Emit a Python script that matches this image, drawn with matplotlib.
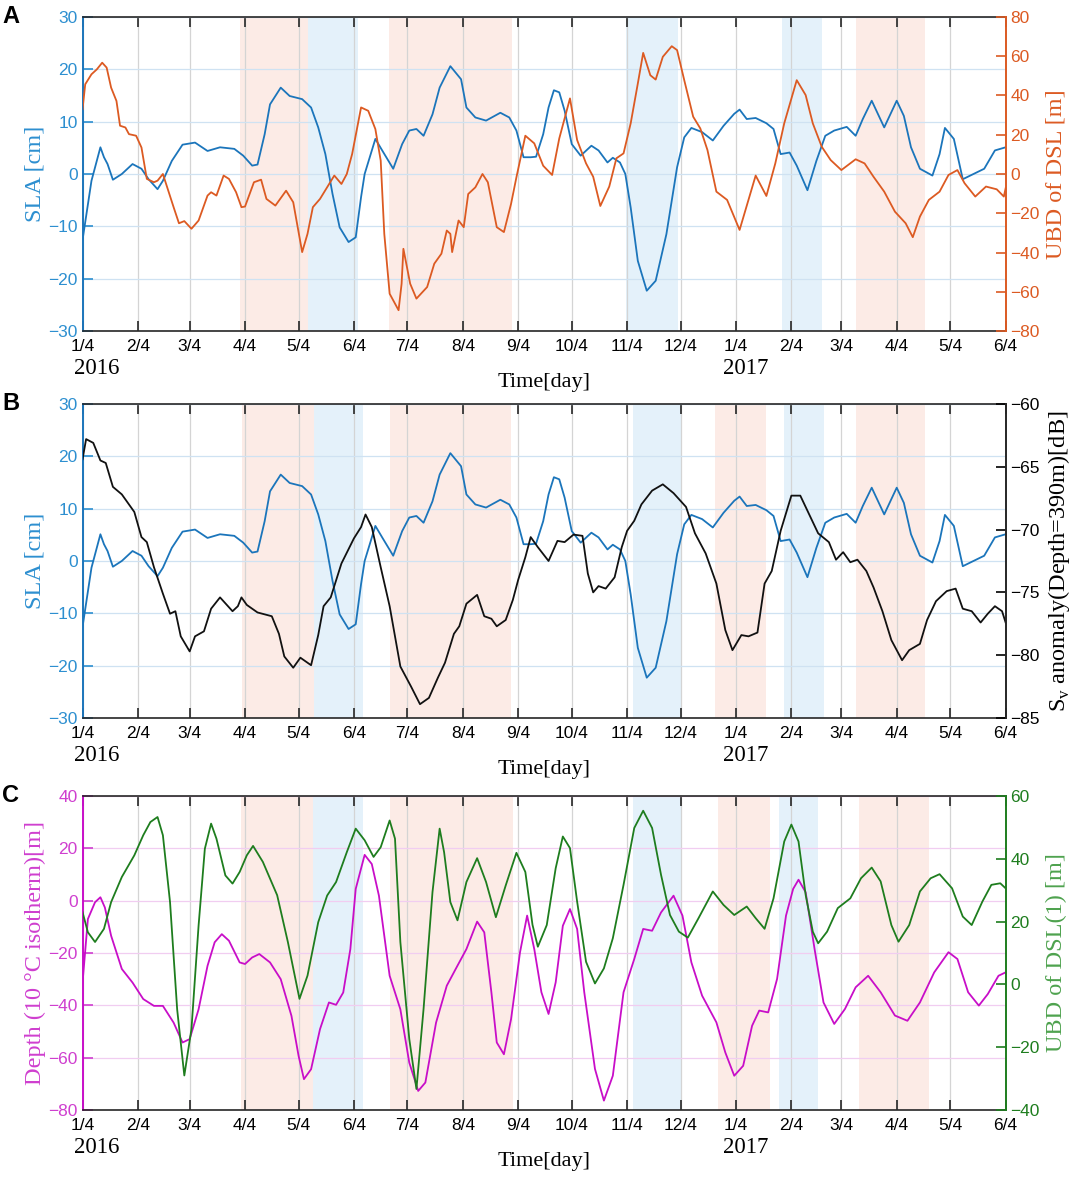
import matplotlib.pyplot as plt
import numpy as np
import pandas as pd

# day offsets from 2016-01-04
sla_days = [0, 5, 10, 12, 14, 17, 22, 28, 33, 37, 42, 45, 50, 56, 63, 70, 77, 85, 90, 95, 98, 102, 105, 111,
            116, 123, 128, 132, 136, 140, 144, 149, 153, 156, 158, 164, 168, 174, 179, 183, 187, 191, 196, 200,
            206, 212, 215, 220, 226, 234, 239, 243, 247, 251, 254, 258, 261, 264, 267, 270, 274, 279, 285, 289,
            294, 297, 301, 304, 307, 311, 316, 321, 327, 333, 337, 341, 347, 353, 359, 365, 368, 372, 377, 383,
            387, 391, 396, 400, 406, 411, 416, 421, 428, 433, 437, 442, 449, 456, 460, 464, 469, 476, 480, 483,
            488, 493, 499, 505, 511, 517]
sla_vals = [-12.6, -1.3, 5.1, 3.2, 1.9, -1.1, 0, 1.9, 1.0, -1.0, -2.9, -1.3, 2.5, 5.6, 6.0, 4.4, 5.1, 4.8, 3.5,
            1.6, 1.8, 7.6, 13.3, 16.5, 14.9, 14.3, 12.7, 8.9, 3.8, -3.8, -10.2, -13.0, -12.1, -4.4, 0, 6.7, 4.4,
            1.0, 5.7, 8.3, 8.6, 7.3, 11.4, 16.5, 20.6, 18.1, 12.7, 10.8, 10.2, 11.7, 10.8, 8.3, 3.2, 3.2, 3.3,
            7.6, 12.7, 16.0, 15.6, 12.1, 5.7, 3.5, 5.4, 4.5, 2.2, 3.1, 2.2, 0, -6.4, -16.6, -22.3, -20.4, -11.5,
            1.3, 7.0, 8.8, 8.0, 6.4, 9.2, 11.5, 12.3, 10.5, 10.7, 9.7, 8.6, 3.8, 4.1, 1.6, -3.1, 2.5, 7.3, 8.3,
            9.0, 7.3, 10.5, 14.0, 8.9, 14.0, 11.1, 5.1, 1.0, -0.3, 3.8, 8.8, 6.7, -1.0, 0, 1.0, 4.5, 5.1]

ubd_days = [0, 1.5, 5, 8, 11, 13.5, 16, 19, 21, 24, 26, 30, 33, 36, 40, 42, 45, 48, 51, 54, 57, 61, 65, 70, 72,
            75, 79, 82, 86, 89, 91, 96, 100, 103, 108, 114, 118, 123, 126, 129, 133, 137, 141, 145, 148, 151,
            154, 156, 160, 164, 167, 169, 172, 177, 178.7, 179.7, 183.5, 187, 193, 197, 201, 204, 206, 207,
            210.6, 213.5, 216, 220, 224, 227, 232, 236, 240, 243, 248, 253, 258, 263, 267, 273, 277, 282, 286,
            290, 295, 299, 303, 307, 311, 314, 318, 321, 325, 330, 333, 337, 342, 346, 350, 355, 361, 368, 373,
            377, 383, 388, 393, 400, 405, 409, 414, 419, 425, 433, 438, 443, 449, 455, 461, 465, 469, 474, 480,
            485, 490, 494, 500, 506, 512, 516, 517]
ubd_vals = [33, 45.7, 50.8, 53.3, 56.7, 54.2, 44, 37.2, 24.6, 23.7, 20.3, 19.5, 13.5, -2.5, -4.2, -3.4, 0, -8.5,
            -16.9, -25.1, -24, -27.9, -23.7, -11, -9.3, -11, -0.8, -2.5, -9.3, -16.9, -16.6, -4.2, -2.9, -12.7,
            -16.1, -8.5, -14.4, -39.8, -30.5, -16.9, -12.7, -6.8, -0.8, -5.1, 0, 10.2, 24.6, 33.9, 32.2, 22.9,
            6.8, -30.5, -61, -69.4, -55.9, -38.1, -55.9, -63.5, -57.6, -45.7, -40.6, -28.8, -30.5, -39.8, -23.7,
            -27.1, -10.2, -6.8, 0, -4.2, -27.1, -29.6, -15.2, -1.7, 19.5, 15.6, 4.2, -0.5, 18.1, 38.5, 17.3, 5.4,
            -1.4, -16.3, -6.4, 8, 10.5, 25.8, 46.1, 61.7, 50.3, 48.1, 59.7, 65.1, 63.1, 47.8, 29.2, 23.2, 12.2,
            -9, -13.2, -28.5, -13.2, -0.8, -11.2, 5.4, 25.8, 47.8, 40.2, 25.8, 13.9, 7.1, 2, 7.5, 5.4, -1.4, -9,
            -19.2, -25.1, -32.2, -21.7, -13.2, -9, -0.5, 2, -4.7, -11.5, -6.4, -7.8, -11.5, -7.3]

sv_days = [0, 2, 6, 10, 13, 17, 22, 29, 33, 36, 40, 45, 49, 52, 55, 60, 63, 68, 72, 77, 84, 87, 89, 92, 98, 106,
           110, 113, 118, 122, 128, 132, 135, 139, 145, 152, 156, 158.5, 162, 167, 172, 178, 184, 189, 194, 199,
           203, 208, 211, 215, 221, 225, 229, 232, 237, 241, 244, 248, 251, 255, 261, 266, 270, 275, 280, 283,
           286, 289, 293, 298, 302, 305, 309, 313, 319, 325, 331, 338, 343, 349, 355, 360, 364, 369, 373, 378,
           382, 386, 391, 397, 402, 406, 412, 418, 422, 426, 430, 434, 439, 443, 448, 453, 459, 463, 469, 473,
           478, 484, 489, 493, 498, 503, 507, 511, 515, 517]
sv_vals = [-64.4, -62.8, -63.1, -64.5, -64.7, -66.6, -67.2, -68.6, -70.6, -71.0, -73, -75.1, -76.7, -76.5, -78.5,
           -79.7, -78.5, -78.1, -76.3, -75.4, -76.5, -76.1, -75.4, -76.0, -76.6, -76.9, -78.3, -80.1, -81.0,
           -80.2, -80.8, -78.4, -76.1, -75.4, -72.7, -70.7, -69.8, -68.8, -69.8, -73, -76.1, -80.9, -82.5,
           -83.9, -83.4, -81.8, -80.6, -78.3, -77.7, -75.9, -75.2, -76.9, -77.1, -77.7, -77.2, -75.6, -74,
           -72.2, -70.6, -71.4, -72.5, -70.9, -71.0, -70.4, -70.5, -73.5, -75, -74.5, -74.7, -73.8, -71.4,
           -70.1, -69.3, -68, -66.9, -66.4, -67.1, -68.2, -70.3, -71.9, -74.3, -78, -79.6, -78.4, -78.5, -78.2,
           -74.3, -73.3, -70.1, -67.3, -67.3, -68.5, -70.3, -71.0, -72.4, -71.8, -72.6, -72.4, -73.3, -74.6,
           -76.5, -78.8, -80.4, -79.6, -79.1, -77.2, -75.7, -74.9, -74.7, -76.3, -76.5, -77.4, -76.7, -76.1,
           -76.5, -77.4]

depth_days = [0, 3, 7, 10, 12.5, 16, 22, 28, 34, 40, 45, 51, 56, 60, 65, 70, 74, 78, 82, 88, 91, 95, 99, 105,
              111, 117, 121, 124, 128, 133, 138, 142, 146, 150, 153, 158, 162, 166, 172, 178, 183, 188, 192, 198,
              204, 209, 215, 221, 225, 229, 232, 236, 240, 245, 249, 253, 257, 261, 265, 269, 273, 277, 281, 287,
              292, 297, 303, 309, 314, 319, 324, 331, 336, 341, 347, 355, 360, 365, 370, 375, 379, 384, 389, 394,
              398, 401, 405, 410, 415, 421, 427, 433, 440, 447, 455, 462, 469, 477, 485, 490, 496, 502, 507, 513,
              517]
depth_vals = [-31.3, -7, -0.6, 1.3, -2.6, -13.4, -26.1, -31.3, -37.6, -40.2, -40.2, -46.6, -54.2, -52.9, -41.5,
              -24.9, -15.9, -12.8, -15.3, -23.6, -24.2, -21.7, -20.4, -23.6, -30, -44, -59.3, -68.2, -64.4,
              -49.1, -38.9, -39.8, -35.1, -18.5, 4.5, 17.5, 14, 1.9, -28.7, -41.5, -61.9, -72.7, -69.5, -46.6,
              -32.5, -26.1, -18.5, -8, -12.1, -35.1, -54.2, -58.7, -45.3, -19.8, -5.7, -18.5, -35, -43.3, -31.2,
              -9.6, -3.2, -10.8, -35, -64.3, -76.4, -66.9, -35, -22.3, -10.8, -11.5, -4.5, 1.9, -5.7, -23.6,
              -36.3, -46.5, -58, -66.9, -63.1, -47.8, -42, -42.7, -29.9, -5.7, 4.5, 8, 3.2, -18.5, -38.9, -47.1,
              -41.4, -33.1, -28.7, -35, -43.9, -45.9, -38.9, -27.4, -19.7, -22.3, -35, -40.1, -35.7, -28.7, -27.4]

ubd1_days = [0, 3, 7, 12, 16, 22, 29, 34, 38, 42, 45, 49, 53, 57, 61, 65, 68.5, 72, 75, 80, 84, 88, 92, 95.5,
             101, 109, 115, 121.5, 126, 132, 137, 142, 148, 153, 158, 163, 167, 172, 175, 178, 183, 187, 191,
             196, 200, 202.5, 206, 210, 215, 221, 226, 231.5, 237, 243, 248, 252, 255, 260, 265, 269, 273, 277,
             282, 287, 292, 297, 303, 309, 314, 319, 324, 329, 334, 339, 345, 353, 359, 365, 372, 377, 382, 387,
             393, 397, 401, 405, 409, 412, 417, 423, 430, 436, 442, 447, 453, 457, 463, 469, 475, 480, 487, 493,
             498, 504, 509, 514, 517]
ubd1_vals = [23, 16.6, 13.5, 17.7, 26.2, 34.2, 41.1, 47.5, 51.7, 53.3, 47.5, 26.2, -8, -29, -14.2, 18.8, 43.2,
             51.2, 46.4, 34.7, 32.1, 35.8, 41.1, 44.1, 39, 28.4, 13.5, -4.6, 2.8, 19.8, 28.3, 32.6, 42.1, 49.6,
             45.9, 40.6, 43.7, 52.2, 46.4, 13.5, -17.4, -33.3, -7.8, 29.4, 49.6, 42.1, 26.2, 20.4, 32.6, 40.2,
             32.6, 21.4, 31.5, 41.9, 35.8, 19, 12, 18.9, 37, 47.1, 43.4, 26.4, 7.2, 0.3, 5.1, 14.7, 31.7, 49.8,
             55.3, 49.8, 34.9, 22.1, 16.8, 14.9, 21.1, 29.6, 25.3, 22.1, 24.8, 21.1, 17.7, 27.4, 45.5, 50.9, 45.5,
             28.5, 16.8, 13.1, 16.8, 24.3, 27.4, 33.8, 37.2, 32.8, 18.9, 13.6, 18.9, 29.6, 33.8, 35.1, 30.6, 21.6,
             18.9, 26.4, 31.7, 32.2, 30.6]

# highlighted periods (day offsets)
pink_A = [(88, 126.5), (171.5, 240.5), (433, 472)]
blue_A = [(126.5, 154.5), (304.5, 333.5), (392, 414)]
pink_B = [(89.5, 129.5), (172, 240), (354, 383), (433, 472)]
blue_B = [(129.5, 157), (308.5, 335), (393, 415)]
pink_C = [(89, 129), (172, 241), (356, 385), (435, 474)]
blue_C = [(129, 157), (308.5, 335), (390, 412)]

base = pd.Timestamp("2016-01-04")
tick_dates = [pd.Timestamp(2016, m, 4) for m in range(1, 13)] + [pd.Timestamp(2017, m, 4) for m in range(1, 7)]
tick_pos = [(d - base).days for d in tick_dates]
tick_labels = [f"{d.month}/4" for d in tick_dates]
day_2017 = (pd.Timestamp("2017-01-04") - base).days

SANS = "Liberation Sans"
SERIF = "Liberation Serif"
plt.rcParams["font.family"] = SANS
plt.rcParams["mathtext.fontset"] = "custom"
plt.rcParams["mathtext.rm"] = SERIF

PINK = "#fcebe6"
LBLUE = "#e4f1fa"
C_SLA = "#1b75bb"
C_SLA_T = "#2d8fd0"
C_UBD = "#dc5a22"
C_MAG = "#c80ec8"
C_MAG_T = "#cf3fcf"
C_GRN = "#1e7d1e"
C_GRN_T = "#4ea24e"
EDGE = "#262626"
YLAB = 17.5

fig = plt.figure(figsize=(10.79, 11.78), dpi=100)


def setup(bottom, letter, pinks, blues, lcol, ltcol, rcol, rtcol, hgrid):
    ax = fig.add_axes([0.0765, bottom, 0.8555, 0.2666])
    for a, b in pinks:
        ax.axvspan(a, b, color=PINK, lw=0, zorder=0)
    for a, b in blues:
        ax.axvspan(a, b, color=LBLUE, lw=0, zorder=0)
    ax.set_xlim(0, 517)
    ax.set_xticks(tick_pos)
    ax.set_xticklabels(tick_labels, fontsize=12.5)
    ax.tick_params(axis="x", direction="in", top=True, length=7, width=1.2, color=EDGE, pad=6)
    ax.tick_params(axis="y", direction="in", length=7, width=1.2, colors=ltcol, labelsize=12.5)
    ax.xaxis.grid(True, color="#d4d4d4", lw=0.9)
    ax.yaxis.grid(True, color=hgrid, lw=0.9)
    ax.spines["left"].set_color(lcol)
    ax.spines["left"].set_linewidth(1.4)
    ax.spines["right"].set_visible(False)
    for s in ("top", "bottom"):
        ax.spines[s].set_color(EDGE)
        ax.spines[s].set_linewidth(1.2)
    ax2 = ax.twinx()
    ax2.tick_params(axis="y", direction="in", length=7, width=1.2, colors=rtcol, labelsize=12.5)
    ax2.spines["right"].set_color(rcol)
    ax2.spines["right"].set_linewidth(1.4)
    ax2.spines["left"].set_visible(False)
    ax2.spines["top"].set_visible(False)
    ax2.spines["bottom"].set_visible(False)
    ax.annotate("2016", xy=(0, -0.118), xycoords=("data", "axes fraction"), ha="left", va="center",
                fontsize=16.5, family=SERIF, annotation_clip=False, xytext=(-6, 0), textcoords="offset points")
    ax.annotate("2017", xy=(day_2017, -0.118), xycoords=("data", "axes fraction"), ha="center", va="center",
                fontsize=16.5, family=SERIF, annotation_clip=False, xytext=(7, 0), textcoords="offset points")
    ax.text(0.5, -0.163, "Time[day]", transform=ax.transAxes, ha="center", va="center", fontsize=16,
            family=SERIF)
    fig.text(0.002, bottom + 0.2666, letter, fontsize=17, fontweight="bold", va="center", ha="left")
    return ax, ax2


# Panel A
ax, ax2 = setup(0.719, "A", pink_A, blue_A, C_SLA, C_SLA_T, C_UBD, C_UBD, "#cfe2f2")
ax.plot(sla_days, sla_vals, color=C_SLA, lw=1.3)
ax.set_ylim(-30, 30)
ax.set_yticks(range(-30, 31, 10))
ax.set_ylabel("SLA [cm]", color=C_SLA_T, family=SERIF, fontsize=YLAB, labelpad=2)
ax2.plot(ubd_days, ubd_vals, color=C_UBD, lw=1.3)
ax2.set_ylim(-80, 80)
ax2.set_yticks(range(-80, 81, 20))
ax2.set_ylabel("UBD of DSL [m]", color=C_UBD, family=SERIF, fontsize=YLAB, labelpad=4)

# Panel B
ax, ax2 = setup(0.3905, "B", pink_B, blue_B, C_SLA, C_SLA_T, EDGE, "black", "#cfe2f2")
ax.plot(sla_days, sla_vals, color=C_SLA, lw=1.3)
ax.set_ylim(-30, 30)
ax.set_yticks(range(-30, 31, 10))
ax.set_ylabel("SLA [cm]", color=C_SLA_T, family=SERIF, fontsize=YLAB, labelpad=2)
ax2.plot(sv_days, sv_vals, color="#111111", lw=1.3)
ax2.set_ylim(-85, -60)
ax2.set_yticks(range(-85, -59, 5))
ax2.set_ylabel(r"S$_{\mathregular{v}}$ anomaly(Depth=390m)[dB]", color="black", family=SERIF, fontsize=YLAB,
               labelpad=4)

# Panel C
ax, ax2 = setup(0.0577, "C", pink_C, blue_C, C_MAG, C_MAG_T, C_GRN, C_GRN, "#f1cdf1")
ax.plot(depth_days, depth_vals, color=C_MAG, lw=1.3)
ax.set_ylim(-80, 40)
ax.set_yticks(range(-80, 41, 20))
ax.set_ylabel("Depth (10 \u00b0C isotherm)[m]", color=C_MAG_T, family=SERIF, fontsize=YLAB, labelpad=2)
ax2.plot(ubd1_days, ubd1_vals, color=C_GRN, lw=1.3)
ax2.set_ylim(-40, 60)
ax2.set_yticks(range(-40, 61, 20))
ax2.set_ylabel("UBD of DSL(1) [m]", color=C_GRN_T, family=SERIF, fontsize=YLAB, labelpad=4)

fig.savefig("out.png", dpi=100)
